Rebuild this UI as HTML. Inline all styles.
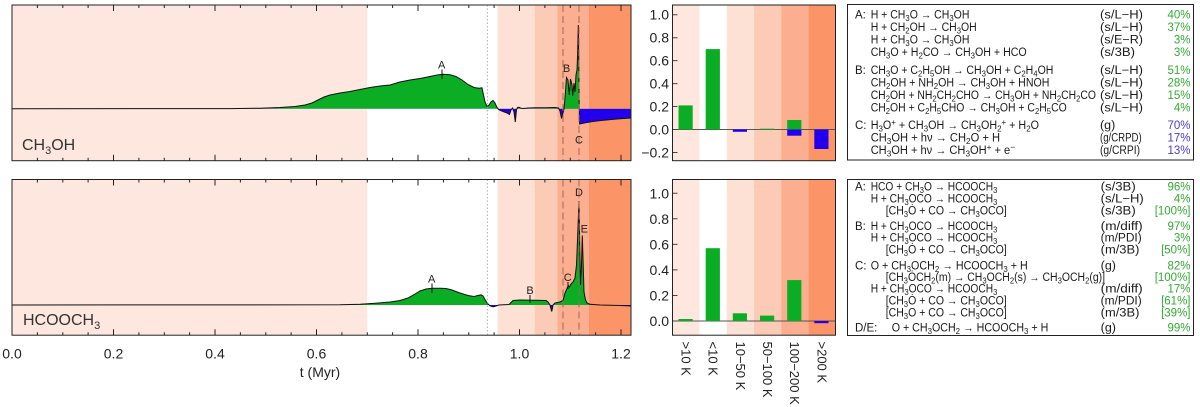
<!DOCTYPE html>
<html>
<head>
<meta charset="utf-8">
<style>
html,body{margin:0;padding:0;background:#fff;}
svg{display:block;}
.s{font-size:8.5px;}
.tk{font-size:14px;fill:#222;}
.tb{font-size:11.5px;fill:#1a1a1a;}
.g{fill:#33aa33;}
.b{fill:#4b3bd0;}
.an{font-size:11px;fill:#222;}
</style>
</head>
<body>
<svg width="1200" height="407" viewBox="0 0 1200 407" font-family="'Liberation Sans', 'DejaVu Sans', sans-serif">
<defs>
  <clipPath id="topAbove"><rect x="12" y="5" width="619" height="103.7"/></clipPath>
  <clipPath id="topBelow"><rect x="12" y="108.7" width="619" height="52"/></clipPath>
  <clipPath id="botAbove"><rect x="12" y="179.5" width="619" height="125.5"/></clipPath>
  <clipPath id="botBelow"><rect x="12" y="305" width="619" height="31"/></clipPath>
  <g id="tk">
    <path d="M113.5 5v6M215 5v6M316.5 5v6M418 5v6M519.5 5v6M621 5v6
             M113.5 160.7v-6M215 160.7v-6M316.5 160.7v-6M418 160.7v-6M519.5 160.7v-6M621 160.7v-6
             M37.4 5v3M62.8 5v3M88.1 5v3M138.9 5v3M164.3 5v3M189.6 5v3M240.4 5v3M265.8 5v3M291.1 5v3M341.9 5v3M367.3 5v3M392.6 5v3M443.4 5v3M468.8 5v3M494.1 5v3M544.9 5v3M570.3 5v3M595.6 5v3
             M37.4 160.7v-3M62.8 160.7v-3M88.1 160.7v-3M138.9 160.7v-3M164.3 160.7v-3M189.6 160.7v-3M240.4 160.7v-3M265.8 160.7v-3M291.1 160.7v-3M341.9 160.7v-3M367.3 160.7v-3M392.6 160.7v-3M443.4 160.7v-3M468.8 160.7v-3M494.1 160.7v-3M544.9 160.7v-3M570.3 160.7v-3M595.6 160.7v-3"
          stroke="#222" stroke-width="1" fill="none"/>
  </g>
</defs>

<!-- ============ TOP LEFT PANEL ============ -->
<rect x="12" y="5" width="619" height="155.7" fill="#fee7de"/>
<rect x="367.25" y="5" width="130.45" height="155.7" fill="#ffffff"/>
<rect x="497.7" y="5" width="37" height="155.7" fill="#fde1d5"/>
<rect x="534.7" y="5" width="22.8" height="155.7" fill="#fccbb6"/>
<rect x="557.5" y="5" width="31.5" height="155.7" fill="#fcae90"/>
<rect x="589" y="5" width="42" height="155.7" fill="#fb9567"/>

<polygon clip-path="url(#topAbove)" fill="#0aad23" points="12,108.7 230,108.6 260,108.2 280,107.5 295,106.5 305,105 312,103 318,100 324,97 330,95 340,93 350,91.5 360,89.5 370,87.5 380,86 390,85 400,82 410,80 420,78.5 430,76.5 437,75 443,74.2 450,74.8 456,76.5 462,80 468,84.5 474,87.5 479,88.2 482,87.8 483.5,95 485,102 487,106.5 489,105 491,102 493,100.5 495,103 497,107.5 499,109.8 503,111.5 507,113 509.5,114.5 511,110 512.5,108 514,112 515.3,122 516.5,110 517.5,107.5 519,107.3 521,108.2 524,108.5 528,108 535,107.7 545,107.7 555,107.5 558.5,108 560,111 561.5,118.5 563,113 564,109 565,98 566.5,77.5 568,80 569.3,95 570.5,79 572,85 572.7,96 574,83 575,92 576,75 577,70 577.6,55 578.3,25 578.8,60 579.2,108.7 579.6,124 582,123.5 586,122.6 592,121.6 600,120.6 610,119.6 620,118.8 631,118 631,108.7"/>
<polygon clip-path="url(#topBelow)" fill="#2200ee" points="12,108.7 230,108.6 260,108.2 280,107.5 295,106.5 305,105 312,103 318,100 324,97 330,95 340,93 350,91.5 360,89.5 370,87.5 380,86 390,85 400,82 410,80 420,78.5 430,76.5 437,75 443,74.2 450,74.8 456,76.5 462,80 468,84.5 474,87.5 479,88.2 482,87.8 483.5,95 485,102 487,106.5 489,105 491,102 493,100.5 495,103 497,107.5 499,109.8 503,111.5 507,113 509.5,114.5 511,110 512.5,108 514,112 515.3,122 516.5,110 517.5,107.5 519,107.3 521,108.2 524,108.5 528,108 535,107.7 545,107.7 555,107.5 558.5,108 560,111 561.5,118.5 563,113 564,109 565,98 566.5,77.5 568,80 569.3,95 570.5,79 572,85 572.7,96 574,83 575,92 576,75 577,70 577.6,55 578.3,25 578.8,60 579.2,108.7 579.6,124 582,123.5 586,122.6 592,121.6 600,120.6 610,119.6 620,118.8 631,118 631,108.7"/>
<polyline fill="none" stroke="#111" stroke-width="1" points="12,108.7 230,108.6 260,108.2 280,107.5 295,106.5 305,105 312,103 318,100 324,97 330,95 340,93 350,91.5 360,89.5 370,87.5 380,86 390,85 400,82 410,80 420,78.5 430,76.5 437,75 443,74.2 450,74.8 456,76.5 462,80 468,84.5 474,87.5 479,88.2 482,87.8 483.5,95 485,102 487,106.5 489,105 491,102 493,100.5 495,103 497,107.5 499,109.8 503,111.5 507,113 509.5,114.5 511,110 512.5,108 514,112 515.3,122 516.5,110 517.5,107.5 519,107.3 521,108.2 524,108.5 528,108 535,107.7 545,107.7 555,107.5 558.5,108 560,111 561.5,118.5 563,113 564,109 565,98 566.5,77.5 568,80 569.3,95 570.5,79 572,85 572.7,96 574,83 575,92 576,75 577,70 577.6,55 578.3,25 578.8,60 579.2,108.7 579.6,124 582,123.5 586,122.6 592,121.6 600,120.6 610,119.6 620,118.8 631,118"/>

<line x1="487.3" y1="5" x2="487.3" y2="160.7" stroke="#999" stroke-width="0.8" stroke-dasharray="1.5,2"/>
<line x1="563" y1="5" x2="563" y2="160.7" stroke="#9a6a5a" stroke-width="1" stroke-dasharray="7,4"/>
<line x1="579" y1="5" x2="579" y2="160.7" stroke="#9a6a5a" stroke-width="1" stroke-dasharray="7,4"/>

<text class="an" x="441.7" y="68.5" text-anchor="middle">A</text>
<line x1="442" y1="69.5" x2="442" y2="79" stroke="#111" stroke-width="1"/>
<text class="an" x="566.5" y="72" text-anchor="middle">B</text>
<text class="an" x="579" y="143.3" text-anchor="middle">C</text>

<text x="22" y="150" font-size="16" fill="#333">CH<tspan font-size="11" dy="4">3</tspan><tspan dy="-4">OH</tspan></text>

<use href="#tk"/>
<rect x="12" y="5" width="619" height="155.7" fill="none" stroke="#222" stroke-width="1"/>

<!-- ============ BOTTOM LEFT PANEL ============ -->
<rect x="12" y="179.5" width="619" height="155.7" fill="#fee7de"/>
<rect x="367.25" y="179.5" width="130.45" height="155.7" fill="#ffffff"/>
<rect x="497.7" y="179.5" width="37" height="155.7" fill="#fde1d5"/>
<rect x="534.7" y="179.5" width="22.8" height="155.7" fill="#fccbb6"/>
<rect x="557.5" y="179.5" width="31.5" height="155.7" fill="#fcae90"/>
<rect x="589" y="179.5" width="42" height="155.7" fill="#fb9567"/>

<polygon clip-path="url(#botAbove)" fill="#0aad23" points="12,305 340,304.8 360,304.3 375,303.3 390,302 400,300.5 408,298 415,294 420,291 426,289 432,288.3 440,288.3 446,288.5 452,290 460,293 468,295.5 474,296.5 478,295.5 481,294.8 483,296 485,299.5 487.5,303.5 490,305.8 493,306.8 496,306 499,305 504,304.7 509,304.5 511,302.5 513,300.5 520,300 535,300.3 546,300.5 548,302 550,305 551,309 551.7,311.5 552.5,308 553,305 555,303 560,302 563,300.5 565,293 567,288.5 568.3,285.5 569.5,287 571,284 573,282 575,278 576.5,265 577.5,240 579,201 579.8,250 580.5,285 581.3,270 582.3,235.5 583.2,265 584,292 585.5,300 587,303 590,304.3 600,305 620,305.5 631,306 631,305"/>
<polygon clip-path="url(#botBelow)" fill="#2200ee" points="12,305 340,304.8 360,304.3 375,303.3 390,302 400,300.5 408,298 415,294 420,291 426,289 432,288.3 440,288.3 446,288.5 452,290 460,293 468,295.5 474,296.5 478,295.5 481,294.8 483,296 485,299.5 487.5,303.5 490,305.8 493,306.8 496,306 499,305 504,304.7 509,304.5 511,302.5 513,300.5 520,300 535,300.3 546,300.5 548,302 550,305 551,309 551.7,311.5 552.5,308 553,305 555,303 560,302 563,300.5 565,293 567,288.5 568.3,285.5 569.5,287 571,284 573,282 575,278 576.5,265 577.5,240 579,201 579.8,250 580.5,285 581.3,270 582.3,235.5 583.2,265 584,292 585.5,300 587,303 590,304.3 600,305 620,305.5 631,306 631,305"/>
<polyline fill="none" stroke="#111" stroke-width="1" points="12,305 340,304.8 360,304.3 375,303.3 390,302 400,300.5 408,298 415,294 420,291 426,289 432,288.3 440,288.3 446,288.5 452,290 460,293 468,295.5 474,296.5 478,295.5 481,294.8 483,296 485,299.5 487.5,303.5 490,305.8 493,306.8 496,306 499,305 504,304.7 509,304.5 511,302.5 513,300.5 520,300 535,300.3 546,300.5 548,302 550,305 551,309 551.7,311.5 552.5,308 553,305 555,303 560,302 563,300.5 565,293 567,288.5 568.3,285.5 569.5,287 571,284 573,282 575,278 576.5,265 577.5,240 579,201 579.8,250 580.5,285 581.3,270 582.3,235.5 583.2,265 584,292 585.5,300 587,303 590,304.3 600,305 620,305.5 631,306"/>

<line x1="487.3" y1="179.5" x2="487.3" y2="335.2" stroke="#999" stroke-width="0.8" stroke-dasharray="1.5,2"/>
<line x1="563" y1="179.5" x2="563" y2="335.2" stroke="#9a6a5a" stroke-width="1" stroke-dasharray="7,4"/>
<line x1="579" y1="179.5" x2="579" y2="335.2" stroke="#9a6a5a" stroke-width="1" stroke-dasharray="7,4"/>

<text class="an" x="431.7" y="282.5" text-anchor="middle">A</text>
<line x1="432" y1="283.5" x2="432" y2="293" stroke="#111" stroke-width="1"/>
<text class="an" x="530" y="294" text-anchor="middle">B</text>
<line x1="530" y1="295" x2="530" y2="303" stroke="#111" stroke-width="1"/>
<text class="an" x="567.7" y="281" text-anchor="middle">C</text>
<line x1="568" y1="282" x2="568" y2="289" stroke="#111" stroke-width="1"/>
<text class="an" x="579" y="196" text-anchor="middle">D</text>
<text class="an" x="584.3" y="232.3" text-anchor="middle">E</text>

<text x="23" y="325" font-size="16" fill="#333">HCOOCH<tspan font-size="11" dy="4">3</tspan></text>

<use href="#tk" transform="translate(0,174.5)"/>
<rect x="12" y="179.5" width="619" height="155.7" fill="none" stroke="#222" stroke-width="1"/>

<!-- x axis labels -->
<text class="tk" x="12" y="358.5" text-anchor="middle">0.0</text>
<text class="tk" x="113.5" y="358.5" text-anchor="middle">0.2</text>
<text class="tk" x="215" y="358.5" text-anchor="middle">0.4</text>
<text class="tk" x="316.5" y="358.5" text-anchor="middle">0.6</text>
<text class="tk" x="418" y="358.5" text-anchor="middle">0.8</text>
<text class="tk" x="519.5" y="358.5" text-anchor="middle">1.0</text>
<text class="tk" x="621" y="358.5" text-anchor="middle">1.2</text>
<text class="tk" x="320" y="377" text-anchor="middle">t (Myr)</text>

<!-- ============ TOP BAR CHART ============ -->
<rect x="672.5" y="5" width="27.17" height="155.7" fill="#fee7de"/>
<rect x="699.67" y="5" width="27.17" height="155.7" fill="#ffffff"/>
<rect x="726.83" y="5" width="27.17" height="155.7" fill="#fde1d5"/>
<rect x="754" y="5" width="27.17" height="155.7" fill="#fccbb6"/>
<rect x="781.17" y="5" width="27.17" height="155.7" fill="#fcae90"/>
<rect x="808.33" y="5" width="27.17" height="155.7" fill="#fb9567"/>
<line x1="672.5" y1="129.5" x2="835.5" y2="129.5" stroke="#555" stroke-width="0.9"/>
<rect x="678.5" y="105.4" width="14.2" height="24.1" fill="#0aad23"/>
<rect x="705.7" y="49.1" width="14.2" height="80.4" fill="#0aad23"/>
<rect x="732.8" y="129.5" width="14.2" height="2.3" fill="#2200ee"/>
<rect x="760" y="128.7" width="14.2" height="0.8" fill="#0aad23"/>
<rect x="787.2" y="120" width="14.2" height="9.5" fill="#0aad23"/>
<rect x="787.2" y="129.5" width="14.2" height="6.2" fill="#2200ee"/>
<rect x="814.3" y="129.5" width="14.2" height="19.5" fill="#2200ee"/>
<path d="M672.5 14.7h5M672.5 37.7h5M672.5 60.6h5M672.5 83.6h5M672.5 106.5h5M672.5 129.5h5M672.5 152.5h5" stroke="#444" stroke-width="1"/>
<rect x="672.5" y="5" width="163" height="155.7" fill="none" stroke="#222" stroke-width="1"/>
<text class="tk" x="669" y="19.7" text-anchor="end">1.0</text>
<text class="tk" x="669" y="42.7" text-anchor="end">0.8</text>
<text class="tk" x="669" y="65.6" text-anchor="end">0.6</text>
<text class="tk" x="669" y="88.6" text-anchor="end">0.4</text>
<text class="tk" x="669" y="111.5" text-anchor="end">0.2</text>
<text class="tk" x="669" y="134.5" text-anchor="end">0.0</text>
<text class="tk" x="669" y="157.5" text-anchor="end">−0.2</text>

<!-- ============ BOTTOM BAR CHART ============ -->
<rect x="672.5" y="179.5" width="27.17" height="155.7" fill="#fee7de"/>
<rect x="699.67" y="179.5" width="27.17" height="155.7" fill="#ffffff"/>
<rect x="726.83" y="179.5" width="27.17" height="155.7" fill="#fde1d5"/>
<rect x="754" y="179.5" width="27.17" height="155.7" fill="#fccbb6"/>
<rect x="781.17" y="179.5" width="27.17" height="155.7" fill="#fcae90"/>
<rect x="808.33" y="179.5" width="27.17" height="155.7" fill="#fb9567"/>
<line x1="672.5" y1="321" x2="835.5" y2="321" stroke="#555" stroke-width="0.9"/>
<rect x="678.5" y="319" width="14.2" height="2" fill="#0aad23"/>
<rect x="705.7" y="248.2" width="14.2" height="72.8" fill="#0aad23"/>
<rect x="732.8" y="313.3" width="14.2" height="7.7" fill="#0aad23"/>
<rect x="760" y="315.6" width="14.2" height="5.4" fill="#0aad23"/>
<rect x="787.2" y="280.1" width="14.2" height="40.9" fill="#0aad23"/>
<rect x="814.3" y="321" width="14.2" height="2.2" fill="#2200ee"/>
<path d="M672.5 193.3h5M672.5 218.8h5M672.5 244.4h5M672.5 269.9h5M672.5 295.5h5M672.5 321h5" stroke="#444" stroke-width="1"/>
<rect x="672.5" y="179.5" width="163" height="155.7" fill="none" stroke="#222" stroke-width="1"/>
<text class="tk" x="669" y="198.3" text-anchor="end">1.0</text>
<text class="tk" x="669" y="223.8" text-anchor="end">0.8</text>
<text class="tk" x="669" y="249.4" text-anchor="end">0.6</text>
<text class="tk" x="669" y="274.9" text-anchor="end">0.4</text>
<text class="tk" x="669" y="300.5" text-anchor="end">0.2</text>
<text class="tk" x="669" y="326" text-anchor="end">0.0</text>

<g font-size="13" fill="#222">
<text transform="translate(681.6,341.5) rotate(90)">&gt;10 K</text>
<text transform="translate(708.7,341.5) rotate(90)">&lt;10 K</text>
<text transform="translate(735.9,341.5) rotate(90)">10−50 K</text>
<text transform="translate(763.1,341.5) rotate(90)">50−100 K</text>
<text transform="translate(790.2,341.5) rotate(90)">100−200 K</text>
<text transform="translate(817.4,341.5) rotate(90)">&gt;200 K</text>
</g>

<!-- ============ TOP TABLE ============ -->
<rect x="847.5" y="4.5" width="346" height="155.5" fill="none" stroke="#222" stroke-width="1"/>
<g class="tb">
<text class="tb" x="855" y="18.3">A:</text>
<text class="tb" x="855" y="73.8">B:</text>
<text class="tb" x="855" y="128.8">C:</text>

<text class="tb" x="870.7" y="18.3" textLength="98.7" lengthAdjust="spacingAndGlyphs">H + CH<tspan class="s" dy="2.5">3</tspan><tspan dy="-2.5">O → CH</tspan><tspan class="s" dy="2.5">3</tspan><tspan dy="-2.5">OH</tspan></text>
<text class="tb" x="870.7" y="30.8" textLength="106" lengthAdjust="spacingAndGlyphs">H + CH<tspan class="s" dy="2.5">2</tspan><tspan dy="-2.5">OH → CH</tspan><tspan class="s" dy="2.5">3</tspan><tspan dy="-2.5">OH</tspan></text>
<text class="tb" x="870.7" y="43.3" textLength="98.7" lengthAdjust="spacingAndGlyphs">H + CH<tspan class="s" dy="2.5">3</tspan><tspan dy="-2.5">O → CH</tspan><tspan class="s" dy="2.5">3</tspan><tspan dy="-2.5">OH</tspan></text>
<text class="tb" x="870.7" y="55.8" textLength="156" lengthAdjust="spacingAndGlyphs">CH<tspan class="s" dy="2.5">3</tspan><tspan dy="-2.5">O + H</tspan><tspan class="s" dy="2.5">2</tspan><tspan dy="-2.5">CO → CH</tspan><tspan class="s" dy="2.5">3</tspan><tspan dy="-2.5">OH + HCO</tspan></text>

<text class="tb" x="870.7" y="73.8" textLength="182.7" lengthAdjust="spacingAndGlyphs">CH<tspan class="s" dy="2.5">3</tspan><tspan dy="-2.5">O + C</tspan><tspan class="s" dy="2.5">2</tspan><tspan dy="-2.5">H</tspan><tspan class="s" dy="2.5">5</tspan><tspan dy="-2.5">OH → CH</tspan><tspan class="s" dy="2.5">3</tspan><tspan dy="-2.5">OH + C</tspan><tspan class="s" dy="2.5">2</tspan><tspan dy="-2.5">H</tspan><tspan class="s" dy="2.5">4</tspan><tspan dy="-2.5">OH</tspan></text>
<text class="tb" x="870.7" y="86.3" textLength="178.7" lengthAdjust="spacingAndGlyphs">CH<tspan class="s" dy="2.5">2</tspan><tspan dy="-2.5">OH + NH</tspan><tspan class="s" dy="2.5">2</tspan><tspan dy="-2.5">OH → CH</tspan><tspan class="s" dy="2.5">3</tspan><tspan dy="-2.5">OH + HNOH</tspan></text>
<text class="tb" x="870.7" y="98.8" textLength="225.3" lengthAdjust="spacingAndGlyphs">CH<tspan class="s" dy="2.5">2</tspan><tspan dy="-2.5">OH + NH</tspan><tspan class="s" dy="2.5">2</tspan><tspan dy="-2.5">CH</tspan><tspan class="s" dy="2.5">2</tspan><tspan dy="-2.5">CHO → CH</tspan><tspan class="s" dy="2.5">3</tspan><tspan dy="-2.5">OH + NH</tspan><tspan class="s" dy="2.5">2</tspan><tspan dy="-2.5">CH</tspan><tspan class="s" dy="2.5">2</tspan><tspan dy="-2.5">CO</tspan></text>
<text class="tb" x="870.7" y="111.3" textLength="196" lengthAdjust="spacingAndGlyphs">CH<tspan class="s" dy="2.5">2</tspan><tspan dy="-2.5">OH + C</tspan><tspan class="s" dy="2.5">2</tspan><tspan dy="-2.5">H</tspan><tspan class="s" dy="2.5">5</tspan><tspan dy="-2.5">CHO → CH</tspan><tspan class="s" dy="2.5">3</tspan><tspan dy="-2.5">OH + C</tspan><tspan class="s" dy="2.5">2</tspan><tspan dy="-2.5">H</tspan><tspan class="s" dy="2.5">5</tspan><tspan dy="-2.5">CO</tspan></text>

<text class="tb" x="870.7" y="128.8" textLength="168.3" lengthAdjust="spacingAndGlyphs">H<tspan class="s" dy="2.5">3</tspan><tspan dy="-2.5">O</tspan><tspan class="s" dy="-4">+</tspan><tspan dy="4"> + CH</tspan><tspan class="s" dy="2.5">3</tspan><tspan dy="-2.5">OH → CH</tspan><tspan class="s" dy="2.5">3</tspan><tspan dy="-2.5">OH</tspan><tspan class="s" dy="2.5">2</tspan><tspan class="s" dy="-6.5">+</tspan><tspan dy="4"> + H</tspan><tspan class="s" dy="2.5">2</tspan><tspan dy="-2.5">O</tspan></text>
<text class="tb" x="870.7" y="141.3" textLength="129.3" lengthAdjust="spacingAndGlyphs">CH<tspan class="s" dy="2.5">3</tspan><tspan dy="-2.5">OH + hν → CH</tspan><tspan class="s" dy="2.5">2</tspan><tspan dy="-2.5">O + H</tspan></text>
<text class="tb" x="870.7" y="153.8" textLength="144.3" lengthAdjust="spacingAndGlyphs">CH<tspan class="s" dy="2.5">3</tspan><tspan dy="-2.5">OH + hν → CH</tspan><tspan class="s" dy="2.5">3</tspan><tspan dy="-2.5">OH</tspan><tspan class="s" dy="-4">+</tspan><tspan dy="4"> + e</tspan><tspan class="s" dy="-4">−</tspan></text>

<text class="tb" x="1100" y="18.3" textLength="43" lengthAdjust="spacingAndGlyphs">(s/L−H)</text>
<text class="tb" x="1100" y="30.8" textLength="43" lengthAdjust="spacingAndGlyphs">(s/L−H)</text>
<text class="tb" x="1100" y="43.3" textLength="43" lengthAdjust="spacingAndGlyphs">(s/E−R)</text>
<text class="tb" x="1100" y="55.8" textLength="35" lengthAdjust="spacingAndGlyphs">(s/3B)</text>
<text class="tb" x="1100" y="73.8" textLength="43" lengthAdjust="spacingAndGlyphs">(s/L−H)</text>
<text class="tb" x="1100" y="86.3" textLength="43" lengthAdjust="spacingAndGlyphs">(s/L−H)</text>
<text class="tb" x="1100" y="98.8" textLength="43" lengthAdjust="spacingAndGlyphs">(s/L−H)</text>
<text class="tb" x="1100" y="111.3" textLength="43" lengthAdjust="spacingAndGlyphs">(s/L−H)</text>
<text class="tb" x="1100" y="128.8" textLength="15.3" lengthAdjust="spacingAndGlyphs">(g)</text>
<text class="tb" x="1100" y="141.3" textLength="41.7" lengthAdjust="spacingAndGlyphs">(g/CRPD)</text>
<text class="tb" x="1100" y="153.8" textLength="40" lengthAdjust="spacingAndGlyphs">(g/CRPI)</text>

<text class="tb g" x="1190.5" y="18.3" text-anchor="end">40%</text>
<text class="tb g" x="1190.5" y="30.8" text-anchor="end">37%</text>
<text class="tb g" x="1190.5" y="43.3" text-anchor="end">3%</text>
<text class="tb g" x="1190.5" y="55.8" text-anchor="end">3%</text>
<text class="tb g" x="1190.5" y="73.8" text-anchor="end">51%</text>
<text class="tb g" x="1190.5" y="86.3" text-anchor="end">28%</text>
<text class="tb g" x="1190.5" y="98.8" text-anchor="end">15%</text>
<text class="tb g" x="1190.5" y="111.3" text-anchor="end">4%</text>
<text class="tb b" x="1190.5" y="128.8" text-anchor="end">70%</text>
<text class="tb b" x="1190.5" y="141.3" text-anchor="end">17%</text>
<text class="tb b" x="1190.5" y="153.8" text-anchor="end">13%</text>
</g>

<!-- ============ BOTTOM TABLE ============ -->
<rect x="847.5" y="179.5" width="346" height="156" fill="none" stroke="#222" stroke-width="1"/>
<g class="tb">
<text class="tb" x="855" y="190.5">A:</text>
<text class="tb" x="855" y="229.8">B:</text>
<text class="tb" x="855" y="269.3">C:</text>
<text class="tb" x="855" y="331.5">D/E:</text>

<text class="tb" x="870.7" y="190.5" textLength="126.6" lengthAdjust="spacingAndGlyphs">HCO + CH<tspan class="s" dy="2.5">3</tspan><tspan dy="-2.5">O → HCOOCH</tspan><tspan class="s" dy="2.5">3</tspan></text>
<text class="tb" x="870.7" y="202.5" textLength="126.6" lengthAdjust="spacingAndGlyphs">H + CH<tspan class="s" dy="2.5">3</tspan><tspan dy="-2.5">OCO → HCOOCH</tspan><tspan class="s" dy="2.5">3</tspan></text>
<text class="tb" x="885.7" y="214.3" textLength="121" lengthAdjust="spacingAndGlyphs">[CH<tspan class="s" dy="2.5">3</tspan><tspan dy="-2.5">Ȯ + CO → CH</tspan><tspan class="s" dy="2.5">3</tspan><tspan dy="-2.5">OCO]</tspan></text>

<text class="tb" x="870.7" y="229.8" textLength="126.6" lengthAdjust="spacingAndGlyphs">H + CH<tspan class="s" dy="2.5">3</tspan><tspan dy="-2.5">OCO → HCOOCH</tspan><tspan class="s" dy="2.5">3</tspan></text>
<text class="tb" x="870.7" y="241.7" textLength="126.6" lengthAdjust="spacingAndGlyphs">H + CH<tspan class="s" dy="2.5">3</tspan><tspan dy="-2.5">OCO → HCOOCH</tspan><tspan class="s" dy="2.5">3</tspan></text>
<text class="tb" x="885.7" y="253.7" textLength="121" lengthAdjust="spacingAndGlyphs">[CH<tspan class="s" dy="2.5">3</tspan><tspan dy="-2.5">Ȯ + CO → CH</tspan><tspan class="s" dy="2.5">3</tspan><tspan dy="-2.5">OCO]</tspan></text>

<text class="tb" x="870.7" y="269.3" textLength="157" lengthAdjust="spacingAndGlyphs">O + CH<tspan class="s" dy="2.5">3</tspan><tspan dy="-2.5">OCH</tspan><tspan class="s" dy="2.5">2</tspan><tspan dy="-2.5"> → HCOOCH</tspan><tspan class="s" dy="2.5">3</tspan><tspan dy="-2.5"> + H</tspan></text>
<text class="tb" x="885.7" y="281" textLength="219.3" lengthAdjust="spacingAndGlyphs">[CH<tspan class="s" dy="2.5">3</tspan><tspan dy="-2.5">ȮCH</tspan><tspan class="s" dy="2.5">2</tspan><tspan dy="-2.5">(m) → CH</tspan><tspan class="s" dy="2.5">3</tspan><tspan dy="-2.5">OCH</tspan><tspan class="s" dy="2.5">2</tspan><tspan dy="-2.5">(s) → CH</tspan><tspan class="s" dy="2.5">3</tspan><tspan dy="-2.5">OCH</tspan><tspan class="s" dy="2.5">2</tspan><tspan dy="-2.5">(g)]</tspan></text>
<text class="tb" x="870.7" y="292.6" textLength="126.6" lengthAdjust="spacingAndGlyphs">H + CH<tspan class="s" dy="2.5">3</tspan><tspan dy="-2.5">OCO → HCOOCH</tspan><tspan class="s" dy="2.5">3</tspan></text>
<text class="tb" x="885.7" y="304.4" textLength="121" lengthAdjust="spacingAndGlyphs">[CH<tspan class="s" dy="2.5">3</tspan><tspan dy="-2.5">Ȯ + CO → CH</tspan><tspan class="s" dy="2.5">3</tspan><tspan dy="-2.5">OCO]</tspan></text>
<text class="tb" x="885.7" y="316.3" textLength="121" lengthAdjust="spacingAndGlyphs">[CH<tspan class="s" dy="2.5">3</tspan><tspan dy="-2.5">O + CO → CH</tspan><tspan class="s" dy="2.5">3</tspan><tspan dy="-2.5">OCO]</tspan></text>

<text class="tb" x="891.7" y="331.5" textLength="156.6" lengthAdjust="spacingAndGlyphs">O + CH<tspan class="s" dy="2.5">3</tspan><tspan dy="-2.5">OCH</tspan><tspan class="s" dy="2.5">2</tspan><tspan dy="-2.5"> → HCOOCH</tspan><tspan class="s" dy="2.5">3</tspan><tspan dy="-2.5"> + H</tspan></text>

<text class="tb" x="1100.7" y="190.5" textLength="35" lengthAdjust="spacingAndGlyphs">(s/3B)</text>
<text class="tb" x="1100.7" y="202.5" textLength="43" lengthAdjust="spacingAndGlyphs">(s/L−H)</text>
<text class="tb" x="1100.7" y="214.3" textLength="35" lengthAdjust="spacingAndGlyphs">(s/3B)</text>
<text class="tb" x="1100.7" y="229.8" textLength="42" lengthAdjust="spacingAndGlyphs">(m/diff)</text>
<text class="tb" x="1100.7" y="241.7" textLength="41" lengthAdjust="spacingAndGlyphs">(m/PDI)</text>
<text class="tb" x="1100.7" y="253.7" textLength="38.7" lengthAdjust="spacingAndGlyphs">(m/3B)</text>
<text class="tb" x="1100.7" y="269.3" textLength="15.3" lengthAdjust="spacingAndGlyphs">(g)</text>
<text class="tb" x="1100.7" y="292.6" textLength="42" lengthAdjust="spacingAndGlyphs">(m/diff)</text>
<text class="tb" x="1100.7" y="304.4" textLength="41" lengthAdjust="spacingAndGlyphs">(m/PDI)</text>
<text class="tb" x="1100.7" y="316.3" textLength="38.7" lengthAdjust="spacingAndGlyphs">(m/3B)</text>
<text class="tb" x="1100.7" y="331.5" textLength="15.3" lengthAdjust="spacingAndGlyphs">(g)</text>

<text class="tb g" x="1190.5" y="190.5" text-anchor="end">96%</text>
<text class="tb g" x="1190.5" y="202.5" text-anchor="end">4%</text>
<text class="tb g" x="1190.5" y="214.3" text-anchor="end">[100%]</text>
<text class="tb g" x="1190.5" y="229.8" text-anchor="end">97%</text>
<text class="tb g" x="1190.5" y="241.7" text-anchor="end">3%</text>
<text class="tb g" x="1190.5" y="253.7" text-anchor="end">[50%]</text>
<text class="tb g" x="1190.5" y="269.3" text-anchor="end">82%</text>
<text class="tb g" x="1190.5" y="281" text-anchor="end">[100%]</text>
<text class="tb g" x="1190.5" y="292.6" text-anchor="end">17%</text>
<text class="tb g" x="1190.5" y="304.4" text-anchor="end">[61%]</text>
<text class="tb g" x="1190.5" y="316.3" text-anchor="end">[39%]</text>
<text class="tb g" x="1190.5" y="331.5" text-anchor="end">99%</text>
</g>
</svg>
</body>
</html>
